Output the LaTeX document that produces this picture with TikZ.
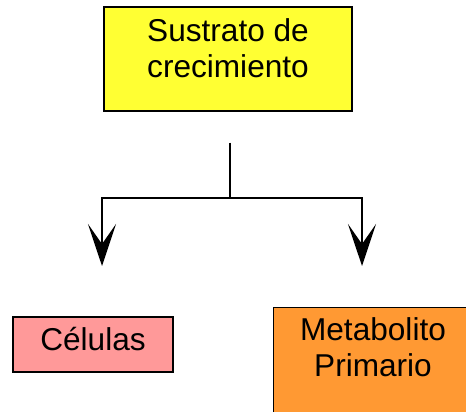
\documentclass[tikz,border=0pt]{standalone}
\usepackage{fontspec}
\setmainfont{Liberation Sans}
\usetikzlibrary{arrows.meta,calc}
\definecolor{boxyellow}{HTML}{FFFF33}
\definecolor{boxpink}{HTML}{FF9999}
\definecolor{boxorange}{HTML}{FF9933}
\begin{document}
\begin{tikzpicture}[x=1pt,y=-1pt,
  boxshape/.style={draw=black, line width=1.3pt, rectangle, inner sep=0pt},
  boxtext/.style={font=\fontsize{31.6}{36}\selectfont, align=center, inner sep=0pt},
  conn/.style={line width=2.4pt, black},
  arr/.style={conn, -{Stealth[length=42pt, width=28pt, inset=20pt]}}]
\useasboundingbox (0,0) rectangle (466,412);
\clip (0,0) rectangle (466,412);
\fill[white] (0,0) rectangle (466,412);
% boxes
\node[boxshape, fill=boxyellow, minimum width=248pt, minimum height=104pt] (sus) at (228,59) {};
\node[boxtext, anchor=north] (sustxt) at (228,18) {Sustrato de\\crecimiento};
\node[boxshape, fill=boxpink, minimum width=160pt, minimum height=55pt] (cel) at (93,344.5) {};
\node[boxtext, anchor=base] (celtxt) at (93,350) {Células};
\node[boxshape, fill=boxorange, minimum width=200pt, minimum height=130pt, anchor=north west] (met) at (273,307) {};
\node[boxtext, anchor=north] (mettxt) at (373,317) {Metabolito\\Primario};
% connectors
\coordinate (top) at ($(sus.south)+(2,31)$);
\coordinate (j) at (230,198);
\coordinate (lt) at (102,266);
\coordinate (rt) at (362,266);
\draw[conn] (top) -- (j);
\draw[arr] (j) -| (lt);
\draw[arr] (j) -| (rt);
\end{tikzpicture}
\end{document}
